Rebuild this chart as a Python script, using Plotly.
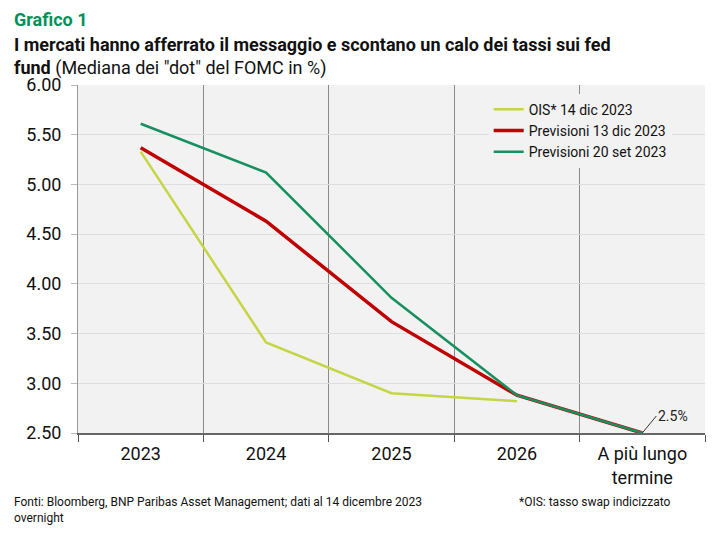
import plotly.graph_objects as go

# categorie asse x
categorie = ["2023", "2024", "2025", "2026", "A più lungo<br>termine"]

# serie (in %)
ois_14_dic = [5.33, 3.41, 2.90, 2.82, None]
prev_13_dic = [5.37, 4.63, 3.62, 2.88, 2.50]
prev_20_set = [5.61, 5.12, 3.86, 2.88, 2.50]

nomi = ["OIS* 14 dic 2023", "Previsioni 13 dic 2023", "Previsioni 20 set 2023"]
colori = ["#c6d545", "#c00000", "#17905f"]
spessori = [2.5, 3.5, 2.5]

font_base = "Roboto, Arial"

fig = go.Figure()

for nome, valori, colore, w in zip(nomi, [ois_14_dic, prev_13_dic, prev_20_set], colori, spessori):
    fig.add_trace(go.Scatter(x=categorie, y=valori, mode="lines", name=nome,
                             line=dict(color=colore, width=w), connectgaps=False))

# etichetta valore di lungo termine
fig.add_annotation(x=categorie[-1], y=prev_20_set[-1], text="2.5%", showarrow=True,
                   arrowhead=0, arrowwidth=1, arrowcolor="#333", ax=14, ay=-17,
                   xanchor="left", font=dict(size=14, color="#222", family=font_base))

# la pagina ha un margine di 8px: figura un po' piu piccola della finestra
fig.update_layout(
    width=717, height=528,
    margin=dict(l=70, r=20, t=77, b=103),
    paper_bgcolor="white", plot_bgcolor="#f2f2f2",
    font=dict(family=font_base, color="#111"),
    showlegend=True,
    legend=dict(x=0.655, y=0.975, xanchor="left", yanchor="top", bgcolor="#f2f2f2",
                font=dict(size=14, color="#111"), tracegroupgap=0, itemwidth=30),
    xaxis=dict(type="category", tickson="boundaries", showgrid=True, gridcolor="#8a8a8a",
               gridwidth=1, ticks="outside", ticklen=7, tickcolor="#555",
               showline=True, linecolor="#666", linewidth=1.5, ticklabelstandoff=4,
               tickfont=dict(size=18, color="#111"), range=[-0.5, 4.5]),
    yaxis=dict(range=[2.5, 6.0], dtick=0.5, tickformat=".2f", showgrid=True,
               gridcolor="#dedede", ticks="outside", ticklen=6, tickcolor="#bbb",
               showline=True, linecolor="#999", zeroline=False, ticklabelstandoff=6,
               tickfont=dict(size=18, color="#111")),
)

# titolo e note
fig.add_annotation(xref="paper", yref="paper", x=-0.105, y=1.187, xanchor="left", yanchor="middle",
                   text="<b>Grafico 1</b>", showarrow=False, align="left",
                   font=dict(size=18, color="#00915a", family=font_base))
fig.add_annotation(xref="paper", yref="paper", x=-0.105, y=1.115, xanchor="left", yanchor="middle",
                   text="<b>I mercati hanno afferrato il messaggio e scontano un calo dei tassi sui fed</b>",
                   showarrow=False, align="left", font=dict(size=18, color="#111", family=font_base))
fig.add_annotation(xref="paper", yref="paper", x=-0.105, y=1.049, xanchor="left", yanchor="middle",
                   text="<b>fund</b> (Mediana dei \"dot\" del FOMC in %)",
                   showarrow=False, align="left", font=dict(size=18, color="#111", family=font_base))
fig.add_annotation(xref="paper", yref="paper", x=-0.105, y=-0.172, xanchor="left", yanchor="top",
                   text="Fonti: Bloomberg, BNP Paribas Asset Management; dati al 14 dicembre 2023<br>overnight",
                   showarrow=False, align="left", font=dict(size=12, color="#111", family=font_base))
fig.add_annotation(xref="paper", yref="paper", x=0.70, y=-0.172, xanchor="left", yanchor="top",
                   text="*OIS: tasso swap indicizzato",
                   showarrow=False, align="left", font=dict(size=12, color="#111", family=font_base))

fig.write_html("out.html")
